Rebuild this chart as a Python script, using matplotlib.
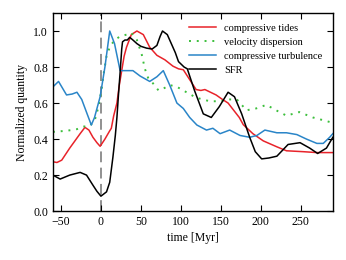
import matplotlib
matplotlib.use("Agg")
import matplotlib.pyplot as plt

# SFR
t_sfr = [-60, -51, -39, -26, -18, -10, -5, 0, 7, 11, 15, 18, 20, 22, 24, 26, 27, 30, 33, 36, 40, 45, 50,
         57, 64, 70, 74, 77, 83, 88, 93, 97, 104, 108, 117, 128, 138, 148, 159, 167, 176, 186, 193, 201,
         210, 220, 234, 249, 261, 271, 282, 290]
y_sfr = [0.20, 0.178, 0.20, 0.215, 0.20, 0.144, 0.11, 0.083, 0.107, 0.16, 0.30, 0.42, 0.52, 0.65, 0.77,
         0.90, 0.94, 0.95, 0.95, 0.965, 0.95, 0.93, 0.915, 0.905, 0.90, 0.92, 0.97, 1.0, 0.98, 0.93,
         0.88, 0.83, 0.80, 0.79, 0.67, 0.54, 0.52, 0.58, 0.66, 0.635, 0.54, 0.41, 0.33, 0.29, 0.295,
         0.305, 0.37, 0.38, 0.35, 0.32, 0.35, 0.41]

# compressive tides
t_tid = [-60, -55, -49, -39, -26, -20, -15, -10, -5, -1, 5, 11, 13, 16, 20, 23, 26, 29, 32, 38, 45, 53,
         61, 70, 80, 90, 97, 103, 111, 119, 125, 130, 137, 144, 152, 159, 166, 173, 178, 190, 203, 220,
         232, 253, 270, 290]
y_tid = [0.274, 0.27, 0.283, 0.35, 0.43, 0.465, 0.45, 0.41, 0.38, 0.36, 0.40, 0.446, 0.46, 0.53, 0.60,
         0.70, 0.78, 0.86, 0.91, 0.98, 1.0, 0.98, 0.91, 0.865, 0.84, 0.805, 0.79, 0.785, 0.73, 0.675,
         0.67, 0.675, 0.66, 0.645, 0.62, 0.60, 0.56, 0.52, 0.48, 0.43, 0.39, 0.357, 0.335, 0.33, 0.325,
         0.325]

# velocity dispersion
t_vel = [-60, -43, -30, -22, -15, -8, -3, 1, 3, 7, 11, 17, 24, 32, 38, 45, 51, 55, 59, 65, 72, 78, 86,
         95, 107, 119, 136, 149, 161, 170, 182, 194, 207, 219, 232, 248, 265, 282, 290]
y_vel = [0.44, 0.446, 0.455, 0.47, 0.47, 0.50, 0.58, 0.68, 0.75, 0.86, 0.91, 0.95, 0.97, 0.98, 0.99,
         0.95, 0.87, 0.79, 0.74, 0.71, 0.67, 0.68, 0.70, 0.69, 0.66, 0.63, 0.61, 0.61, 0.62, 0.62,
         0.56, 0.57, 0.59, 0.56, 0.53, 0.55, 0.52, 0.50, 0.49]

# compressive turbulence
t_tur = [-60, -53, -43, -36, -30, -24, -16, -12, -8, -1, 5, 11, 17, 24, 32, 40, 49, 61, 70, 78, 86, 95,
         103, 111, 120, 132, 140, 149, 161, 174, 186, 195, 205, 220, 232, 245, 257, 270, 278, 286, 290]
y_tur = [0.69, 0.72, 0.645, 0.65, 0.66, 0.62, 0.525, 0.478, 0.52, 0.635, 0.80, 1.0, 0.93, 0.78, 0.78,
         0.78, 0.75, 0.72, 0.746, 0.78, 0.70, 0.60, 0.57, 0.52, 0.478, 0.45, 0.46, 0.43, 0.45, 0.42,
         0.41, 0.42, 0.45, 0.435, 0.435, 0.425, 0.40, 0.376, 0.376, 0.41, 0.43]

x_ticks = [-50, 0, 50, 100, 150, 200, 250]
y_ticks = [0.0, 0.2, 0.4, 0.6, 0.8, 1.0]

plt.rcParams['font.family'] = ['Liberation Serif', 'DejaVu Serif']
plt.rcParams['mathtext.fontset'] = 'stix'

fig = plt.figure(figsize=(3.46, 2.60), dpi=100)
ax = fig.add_axes([0.153, 0.188, 0.809, 0.762])

ax.axvline(0, color='#888888', ls=(0, (6, 3)), lw=1.3, zorder=1)
ax.plot(t_tid, y_tid, color='#e8232a', lw=1.1, label='compressive tides')
ax.plot(t_vel, y_vel, color='#3cbf3c', lw=1.4, ls=(0, (1, 3)), label='velocity dispersion')
ax.plot(t_tur, y_tur, color='#2a85c8', lw=1.1, label='compressive turbulence')
ax.plot(t_sfr, y_sfr, color='black', lw=1.1, label='SFR')

ax.set_xlim(-60, 290)
ax.set_ylim(0, 1.1)
ax.set_xticks(x_ticks)
ax.set_yticks(y_ticks)
ax.set_yticklabels([f"{v:.1f}" for v in y_ticks])
ax.tick_params(direction='in', top=True, right=True, length=4, width=0.8, labelsize=8.5)
for s in ax.spines.values():
    s.set_linewidth(1.0)
ax.set_xlabel('time [Myr]', fontsize=8.5, labelpad=3)
ax.set_ylabel('Normalized quantity', fontsize=8.5)
ax.legend(loc='upper right', frameon=False, fontsize=7.5, handlelength=2.6,
          labelspacing=0.45, borderaxespad=0.6)

fig.savefig('out.png', dpi=100)
